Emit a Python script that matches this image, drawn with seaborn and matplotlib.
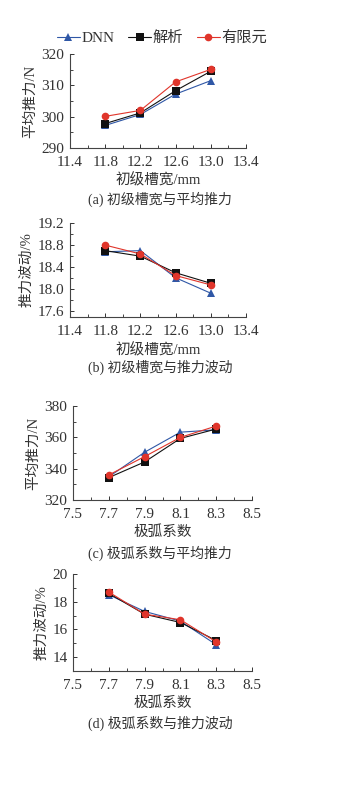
import pandas as pd
import matplotlib
matplotlib.use('Agg')
import matplotlib.pyplot as plt
from matplotlib.ticker import AutoMinorLocator
import seaborn as sns

# slot width sweep
slot_w = [11.8, 12.2, 12.6, 13.0]
force_dnn = [297.2, 300.7, 307.2, 311.5]
force_ana = [297.8, 301.2, 308.3, 314.5]
force_fem = [300.1, 302.0, 311.1, 315.1]
ripple_dnn = [18.68, 18.70, 18.21, 17.93]
ripple_ana = [18.70, 18.60, 18.30, 18.11]
ripple_fem = [18.80, 18.64, 18.25, 18.08]

# pole arc coefficient sweep
pole_arc = [7.7, 7.9, 8.1, 8.3]
force2_dnn = [334.8, 350.5, 363.3, 364.8]
force2_ana = [334.3, 344.3, 359.3, 365.3]
force2_fem = [336.0, 347.7, 360.0, 367.2]
ripple2_dnn = [18.5, 17.3, 16.6, 14.9]
ripple2_ana = [18.6, 17.1, 16.5, 15.2]
ripple2_fem = [18.7, 17.1, 16.7, 15.1]

names = ['DNN', '解析', '有限元']
colors = ['#2f57a6', '#111111', '#e0352b']
markers = ['^', 's', 'o']

xt_slot = [11.4, 11.8, 12.2, 12.6, 13.0, 13.4]
xt_arc = [7.5, 7.7, 7.9, 8.1, 8.3, 8.5]

sns.set_theme(style="ticks")
plt.rcParams['font.family'] = ['Liberation Serif', 'Noto Sans CJK SC']
plt.rcParams['axes.unicode_minus'] = False

fig = plt.figure(figsize=(3.53, 7.99), dpi=100)

panels = [
    dict(pos=[70/353, 1-148/799, 176/353, 94/799], x=slot_w, ys=[force_dnn, force_ana, force_fem],
         xticks=xt_slot, yticks=[290, 300, 310, 320], ylim=(290, 320), yfmt='%d',
         ylabel='平均推力/N', xlabel='初级槽宽/mm', cap='(a) 初级槽宽与平均推力', cy=199),
    dict(pos=[70/353, 1-317/799, 176/353, 94/799], x=slot_w, ys=[ripple_dnn, ripple_ana, ripple_fem],
         xticks=xt_slot, yticks=[17.6, 18.0, 18.4, 18.8, 19.2], ylim=(17.5, 19.2), yfmt='%.1f',
         ylabel='推力波动/%', xlabel='初级槽宽/mm', cap='(b) 初级槽宽与推力波动', cy=367),
    dict(pos=[73/353, 1-500/799, 179/353, 94/799], x=pole_arc, ys=[force2_dnn, force2_ana, force2_fem],
         xticks=xt_arc, yticks=[320, 340, 360, 380], ylim=(320, 380), yfmt='%d',
         ylabel='平均推力/N', xlabel='极弧系数', cap='(c) 极弧系数与平均推力', cy=553),
    dict(pos=[73/353, 1-671/799, 179/353, 97/799], x=pole_arc, ys=[ripple2_dnn, ripple2_ana, ripple2_fem],
         xticks=xt_arc, yticks=[14, 16, 18, 20], ylim=(13, 20), yfmt='%d',
         ylabel='推力波动/%', xlabel='极弧系数', cap='(d) 极弧系数与推力波动', cy=723),
]

first_ax = None
for p in panels:
    ax = fig.add_axes(p['pos'])
    for name, ys, c, m in zip(names, p['ys'], colors, markers):
        df = pd.DataFrame({'x': p['x'], 'y': ys})
        sns.lineplot(data=df, x='x', y='y', ax=ax, color=c, marker=m, markersize=5.5,
                     markeredgewidth=0, linewidth=0.8, label=name, legend=False)
    ax.set_xticks(p['xticks'])
    ax.set_xticklabels(['%.1f' % v for v in p['xticks']])
    ax.set_xlim(p['xticks'][0], p['xticks'][-1])
    ax.set_yticks(p['yticks'])
    ax.set_yticklabels([p['yfmt'] % v for v in p['yticks']])
    ax.set_ylim(*p['ylim'])
    ax.xaxis.set_minor_locator(AutoMinorLocator(2))
    ax.yaxis.set_minor_locator(AutoMinorLocator(2))
    ax.tick_params(which='major', direction='in', length=3, width=0.7, labelsize=11, colors='#333333')
    ax.tick_params(axis='x', which='major', pad=6)
    ax.tick_params(axis='y', which='major', pad=4)
    ax.tick_params(which='minor', direction='in', length=2, width=0.6)
    for s in ['top', 'right']:
        ax.spines[s].set_visible(False)
    for s in ['left', 'bottom']:
        ax.spines[s].set_linewidth(0.8)
        ax.spines[s].set_color('#444444')
    ax.set_ylabel(p['ylabel'], fontsize=10.5, color='#333333', labelpad=3)
    ax.set_xlabel(p['xlabel'], fontsize=10.5, color='#333333', labelpad=3)
    fig.text(160/353, 1 - p['cy']/799, p['cap'], ha='center', va='center', fontsize=10, color='#333333')
    if first_ax is None:
        first_ax = ax

handles, labels = first_ax.get_legend_handles_labels()
fig.legend(handles, labels, loc='center', bbox_to_anchor=(162/353, 1 - 38/799), ncol=3, frameon=False,
           fontsize=11, handlelength=1.5, handletextpad=0.1, columnspacing=0.9, labelcolor='#333333')

plt.savefig('out.png', dpi=100)
plt.close()
